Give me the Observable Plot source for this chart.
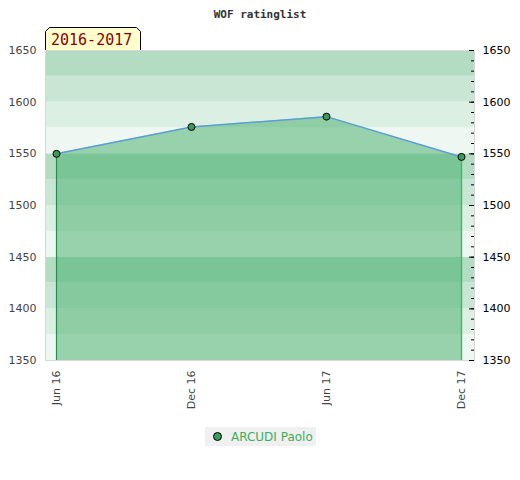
<!DOCTYPE html>
<html><head><meta charset="utf-8">
<script src="https://cdn.jsdelivr.net/npm/d3@7"></script>
<script src="https://cdn.jsdelivr.net/npm/@observablehq/plot@0.6"></script>
<style>
body{margin:0;background:#fff;}
#wrap{position:relative;width:520px;height:480px;}
#legend{position:absolute;left:205px;top:427px;width:111px;height:19px;background:#f0f0f0;font:12px "DejaVu Sans",sans-serif;color:#3cae5e;display:flex;align-items:center;}
#legend .dot{width:7px;height:7px;border-radius:50%;background:#3a9b5c;border:1px solid #000;margin-left:8px;margin-right:9px;box-sizing:content-box;}
</style>
</head><body><div id="wrap"><div id="legend"><span class="dot"></span><span id="lname"></span></div></div>
<script>
const title = "WOF ratinglist";
const seasonLabel = "2016-2017";
const player = "ARCUDI Paolo";
const periods = ["Jun 16", "Dec 16", "Jun 17", "Dec 17"];
const ratings = [1550, 1576, 1586, 1547];
const yTicks = [1350, 1400, 1450, 1500, 1550, 1600, 1650];
const minorTicks = d3.range(1350, 1651, 10);
const bandStarts = d3.range(1350, 1650, 25);
const bandShades = ["#eff7f2", "#dcefe3", "#c9e6d5", "#b3dcc3"];

const data = periods.map((p, i) => ({period: p, rating: ratings[i]}));
const bands = bandStarts.map((b, i) => ({y1: b, y2: b + 25, fill: bandShades[i % 4]}));
const yMin = yTicks[0], yMax = yTicks[yTicks.length - 1];
const first = data[0], last = data[data.length - 1];

const chart = Plot.plot({
  width: 520, height: 480,
  marginLeft: 45, marginRight: 46, marginTop: 50, marginBottom: 120,
  style: {fontFamily: "DejaVu Sans, sans-serif", fontSize: "11px", color: "#444", background: "#fff"},
  x: {type: "point", domain: periods, padding: 0, insetLeft: 10, insetRight: 12, label: null},
  y: {domain: [yMin, yMax], label: null},
  marks: [
    Plot.rect(bands, {y1: "y1", y2: "y2", fill: "fill"}),
    Plot.areaY(data, {x: "period", y1: yMin, y2: "rating", fill: "#41ad68", fillOpacity: 0.5}),
    Plot.ruleX([first], {x: "period", y1: yMin, y2: "rating", stroke: "#2a8a50", strokeWidth: 1.2}),
    Plot.ruleX([last], {x: "period", y1: yMin, y2: "rating", stroke: "#33c060", strokeWidth: 1.4}),
    Plot.line(data, {x: "period", y: "rating", stroke: "#5a9fd4", strokeWidth: 1.5}),
    Plot.dot(data, {x: "period", y: "rating", r: 3.5, fill: "#3a9b5c", stroke: "#000", strokeWidth: 1}),
    Plot.frame({stroke: "#d8d8d8"}),
    Plot.tickY(minorTicks, {y: d => d, insetLeft: 426, stroke: "#000"}),
    Plot.tickY(yTicks, {y: d => d, insetLeft: 424, stroke: "#000"}),
    Plot.axisY({anchor: "left", ticks: yTicks, tickSize: 0, tickPadding: 9, tickFormat: d => String(d)}),
    Plot.axisY({anchor: "right", ticks: yTicks, tickSize: 0, tickPadding: 8, tickFormat: d => String(d), fill: "#000"}),
    Plot.axisX({tickRotate: -90, tickSize: 0, tickPadding: 10}),
    Plot.text([title], {frameAnchor: "top", dy: -40, fontFamily: "DejaVu Sans Mono, monospace", fontWeight: "bold", fontSize: 11, fill: "#333"})
  ]
});

const svg = d3.select(chart);
const g = svg.append("g");
g.append("path")
  .attr("d", "M45.5,50 L45.5,31.5 L49.5,27.5 L136.5,27.5 L140.5,31.5 L140.5,50")
  .attr("fill", "#ffffcc").attr("stroke", "#000").attr("stroke-width", 1).attr("stroke-linejoin", "miter");
g.append("text").text(seasonLabel)
  .attr("x", 51).attr("y", 45).attr("text-anchor", "start")
  .attr("font-family", "DejaVu Sans Mono, monospace").attr("font-size", 15)
  .attr("fill", "#8b0000");

document.getElementById("wrap").prepend(chart);
document.getElementById("lname").textContent = player;
</script>
</body></html>
